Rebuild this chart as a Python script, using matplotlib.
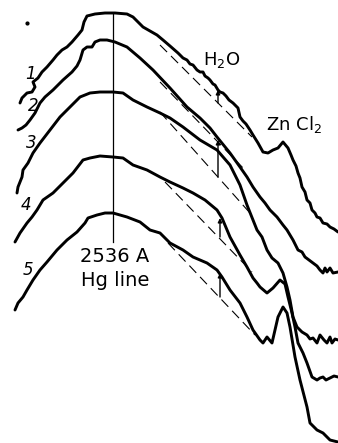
import matplotlib
matplotlib.use("Agg")
import matplotlib.pyplot as plt

# traced absorption curves, picture coordinates (x to the right, y downwards)
curve1_x = [20, 22, 27, 32, 35, 33, 38, 42, 47, 53, 57, 62, 67, 72, 78, 82, 84, 87, 95, 105, 115, 127, 133, 138, 143,
            150, 157, 163, 170, 178, 183, 187, 190, 193, 197, 200, 203, 205, 208, 210, 213, 215, 218, 220, 223, 226,
            229, 233, 236, 238, 240, 243, 246, 250, 253, 258, 263, 268, 273, 278, 283, 288, 291, 293, 296, 298, 300,
            302, 305, 307, 310, 312, 315, 317, 320, 323, 327, 330, 334, 338]
curve1_y = [103, 98, 93, 92, 87, 82, 78, 72, 67, 60, 55, 50, 47, 42, 35, 30, 22, 16, 14, 13, 13, 14, 17, 22, 27,
            31, 35, 40, 46, 53, 58, 60, 64, 65, 70, 72, 72, 76, 78, 80, 84, 85, 90, 92, 93, 96,
            100, 103, 106, 108, 117, 121, 124, 130, 135, 143, 152, 153, 150, 148, 142, 148, 155, 160, 166, 173, 178,
            187, 192, 200, 203, 210, 213, 217, 218, 223, 224, 227, 229, 232]

curve2_x = [18, 22, 26, 30, 35, 38, 40, 45, 53, 63, 72, 77, 80, 83, 87, 92, 95, 100, 107, 115, 127, 140, 153, 170,
            187, 200, 210, 217, 230, 240, 247, 253, 260, 265, 270, 277, 283, 287, 293, 298, 302, 305, 309, 313, 317,
            320, 323, 325, 327, 330, 333, 338]
curve2_y = [130, 128, 125, 120, 113, 107, 103, 97, 90, 80, 72, 66, 60, 50, 47, 47, 42, 40, 40, 42, 47, 58, 70, 88,
            107, 118, 128, 137, 153, 167, 177, 187, 197, 203, 210, 217, 225, 230, 240, 250, 252, 257, 260, 263, 266,
            270, 273, 268, 272, 268, 273, 272]

curve3_x = [17, 18, 22, 23, 28, 33, 40, 50, 60, 70, 80, 85, 90, 100, 113, 123, 133, 147, 160, 170, 183, 200, 217,
            230, 240, 247, 253, 257, 262, 267, 272, 278, 283, 287, 290, 293, 297, 302, 307, 310, 313, 317, 320, 324,
            327, 330, 332, 335, 338]
curve3_y = [193, 187, 177, 170, 163, 153, 143, 130, 117, 107, 97, 95, 93, 92, 92, 93, 100, 107, 113, 118, 127, 140,
            150, 165, 185, 205, 220, 230, 237, 250, 258, 263, 273, 287, 300, 317, 327, 332, 335, 339, 338, 343, 335,
            340, 343, 337, 343, 339, 340]

curve4_x = [15, 20, 27, 32, 37, 43, 53, 63, 73, 83, 90, 100, 113, 123, 133, 147, 160, 170, 183, 193, 205, 217, 222,
            230, 240, 247, 253, 257, 260, 267, 273, 280, 285, 288, 292, 295, 298, 303, 307, 312, 317, 320, 323, 326,
            330, 334, 338]
curve4_y = [242, 233, 223, 217, 210, 200, 193, 183, 173, 160, 158, 156, 157, 158, 165, 170, 177, 182, 188, 193, 200,
            210, 218, 237, 255, 267, 278, 283, 287, 293, 288, 280, 284, 297, 313, 327, 343, 353, 363, 377, 380, 378,
            377, 380, 378, 376, 377]

curve5_x = [15, 18, 23, 27, 33, 40, 47, 57, 67, 77, 85, 88, 97, 105, 113, 127, 140, 150, 160, 170, 183, 193, 207,
            217, 222, 230, 240, 247, 253, 260, 263, 267, 272, 275, 278, 283, 287, 290, 293, 295, 300, 307, 310, 317,
            323, 330, 338]
curve5_y = [310, 303, 297, 290, 280, 270, 262, 250, 240, 232, 223, 218, 215, 213, 213, 217, 222, 230, 233, 243,
            250, 257, 263, 270, 277, 290, 303, 317, 330, 340, 343, 337, 343, 330, 317, 307, 313, 327, 345, 357, 380,
            407, 423, 430, 433, 440, 442]

curves = [(curve1_x, curve1_y), (curve2_x, curve2_y), (curve3_x, curve3_y),
          (curve4_x, curve4_y), (curve5_x, curve5_y)]

# dashed base lines under the falling side of each curve: (x0, y0, x1, y1)
base_lines = [(160, 45, 252, 137), (160, 82, 245, 170), (160, 112, 250, 213),
              (165, 182, 252, 272), (168, 243, 255, 335)]
# arrows from base line up to the curve: (x, y_from, y_to)
arrows = [(218, 103, 90), (218, 177, 140), (220, 237, 218), (220, 297, 273)]

curve_labels = ["1", "2", "3", "4", "5"]
label_pos = [(31, 74), (33, 106), (31, 143), (26, 205), (28, 270)]

hg_x = 113
hg_top, hg_bottom = 13, 242

fig = plt.figure(figsize=(3.38, 4.43), dpi=100)
ax = fig.add_axes([0, 0, 1, 1])
ax.set_xlim(0, 338)
ax.set_ylim(443, 0)
ax.axis("off")

for xs, ys in curves:
    ax.plot(xs, ys, color="black", lw=2.1, solid_joinstyle="round", solid_capstyle="round")

for x0, y0, x1, y1 in base_lines:
    ax.plot([x0, x1], [y0, y1], color="black", lw=0.8, dashes=(9, 5))

for x, y0, y1 in arrows:
    ax.annotate("", xy=(x, y1), xytext=(x, y0),
                arrowprops=dict(arrowstyle="-|>", color="black", lw=1.0,
                                mutation_scale=6, shrinkA=0, shrinkB=0))

# mercury line marker
ax.plot([hg_x, hg_x], [hg_top, hg_bottom], color="black", lw=0.9)
ax.text(hg_x + 2, 256, "2536 A", ha="center", va="center", fontsize=14)
ax.text(hg_x + 2, 281, "Hg line", ha="center", va="center", fontsize=14)

ax.text(222, 60, "H$_2$O", ha="center", va="center", fontsize=13)
ax.text(294, 124, "Zn Cl$_2$", ha="center", va="center", fontsize=13)

for lab, (lx, ly) in zip(curve_labels, label_pos):
    ax.text(lx, ly, lab, ha="center", va="center", fontsize=12, style="italic")

ax.plot([27], [23], marker="o", color="black", ms=2)

fig.savefig("out.png", dpi=100)
